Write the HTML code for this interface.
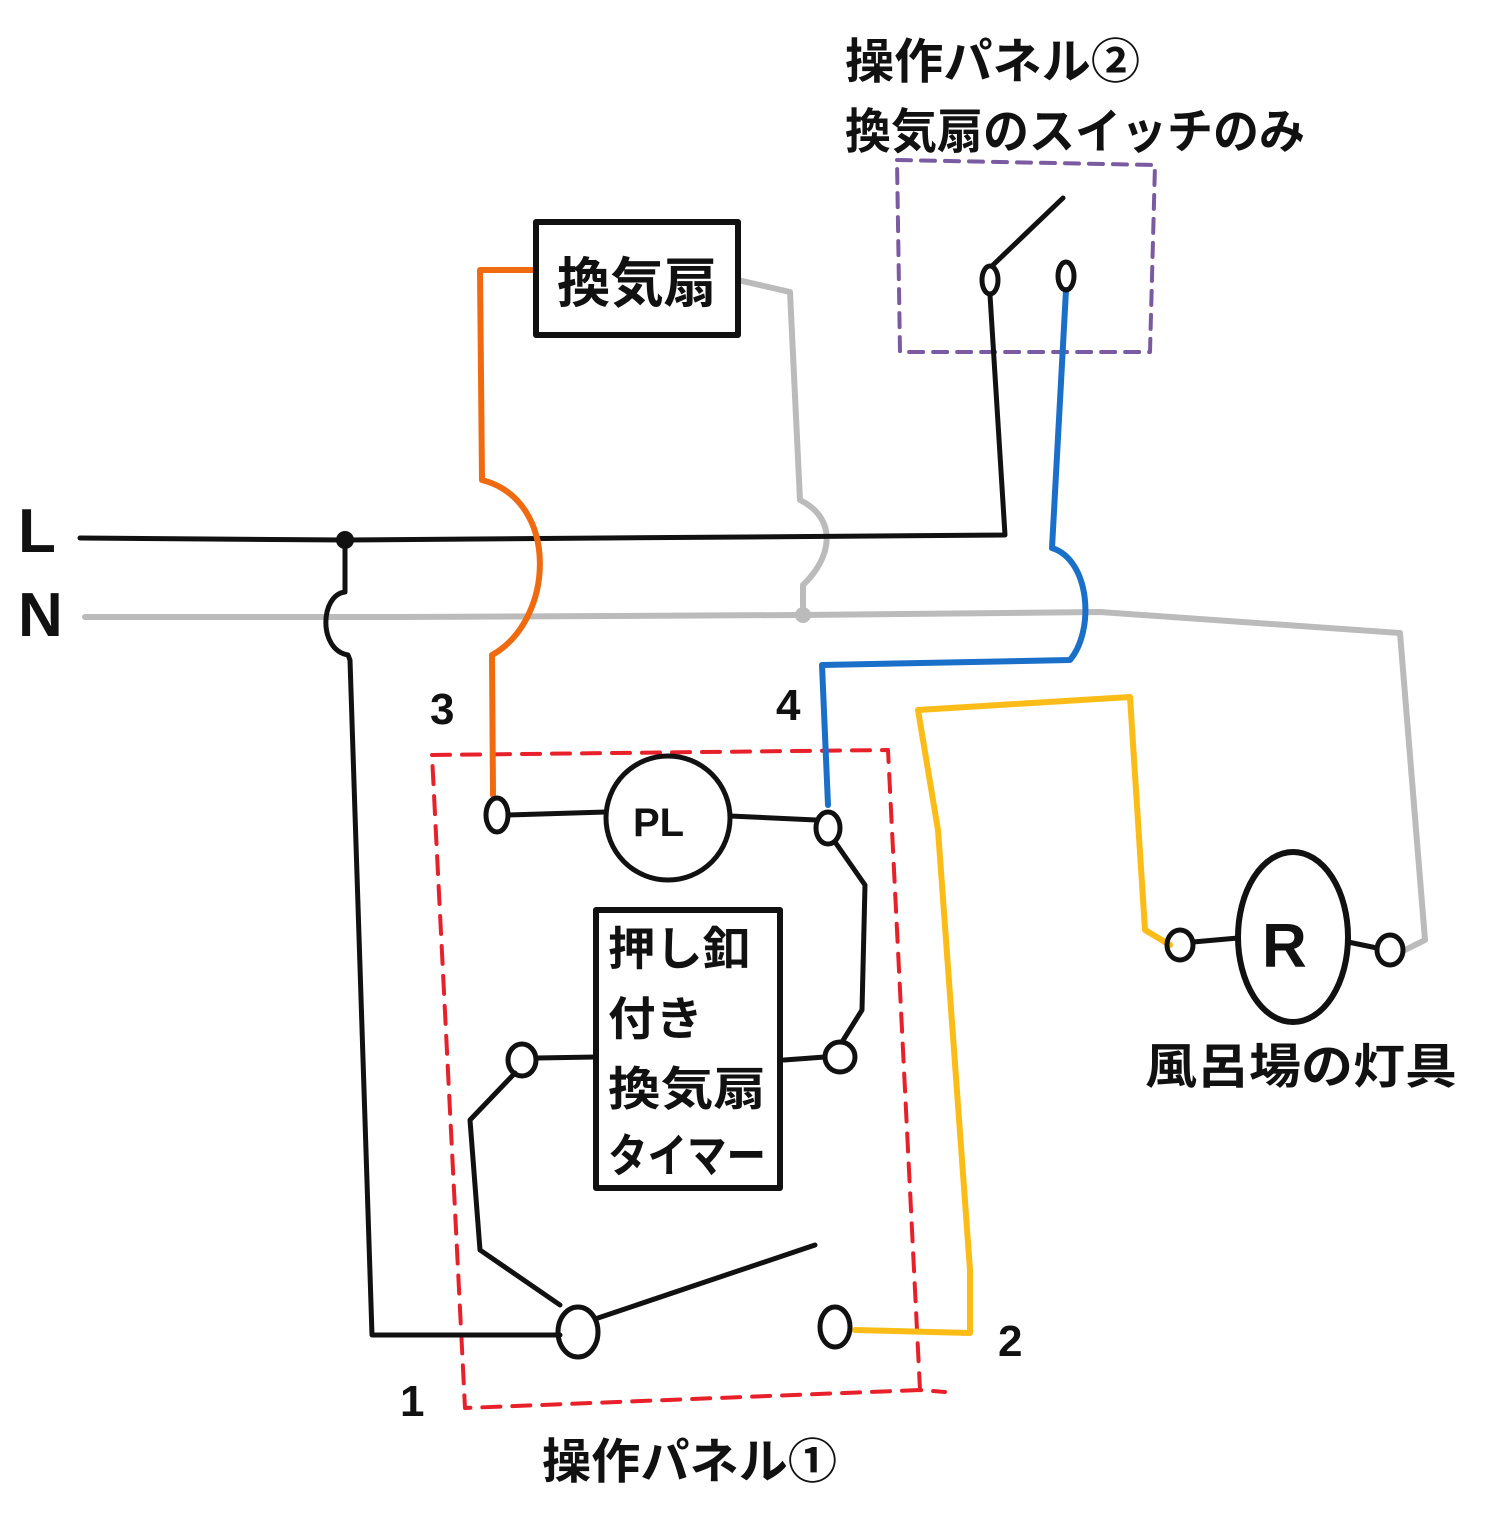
<!DOCTYPE html>
<html><head><meta charset="utf-8"><style>
html,body{margin:0;padding:0;background:#fff;}
svg{display:block;}
text{font-family:"Liberation Sans","Noto Sans CJK JP",sans-serif;font-weight:bold;fill:#111;}
</style></head><body>
<svg width="1508" height="1536" viewBox="0 0 1508 1536" xmlns="http://www.w3.org/2000/svg">
<g fill="none" stroke-linecap="round" stroke-linejoin="round">
<path d="M897,160 L1155,165 L1150,352 L900,352 Z" stroke="#7a5aa0" stroke-width="4" stroke-dasharray="14,10"/>
<path d="M432,755 L888,750 L920,1390 L945,1392 M920,1390 L465,1408 L432,755" stroke="#e8202a" stroke-width="4" stroke-dasharray="18,12"/>
<path d="M85,617 L400,617 L800,615 L1100,612 L1400,633 L1425,940 L1405,950" stroke="#bbb" stroke-width="6"/>
<path d="M738,280 L790,292 L800,500 C840,520 830,560 803,585 L803,615" stroke="#bbb" stroke-width="6"/>
<circle cx="803" cy="615" r="8" fill="#bbb"/>
<path d="M80,538 L345,540 L1005,535 L990,295" stroke="#111" stroke-width="5"/>
<circle cx="345" cy="540" r="9" fill="#111"/>
<path d="M345,540 L345,592 C320,595 318,650 348,655 L350,660 L372,1335 L560,1335" stroke="#111" stroke-width="5"/>
<path d="M536,270 L480,270 L482,480 C560,500 555,620 492,655 L493,795" stroke="#f06a10" stroke-width="6"/>
<path d="M1066,290 L1052,548 C1090,560 1095,630 1070,660 L822,665 L828,805" stroke="#1a6fc8" stroke-width="6"/>
<path d="M855,1330 L970,1333 L970,1270 L938,830 L918,710 L1130,697 L1145,930 L1170,945" stroke="#fbbc18" stroke-width="6"/>
<ellipse cx="990" cy="280" rx="8" ry="14" stroke="#111" stroke-width="5"/>
<ellipse cx="1066" cy="276" rx="8" ry="14" stroke="#111" stroke-width="5"/>
<path d="M993,265 L1063,198" stroke="#111" stroke-width="5"/>
<rect x="536" y="222" width="202" height="113" stroke="#111" stroke-width="6"/>
<circle cx="668" cy="818" r="62" stroke="#111" stroke-width="5"/>
<ellipse cx="497" cy="815" rx="11" ry="17" stroke="#111" stroke-width="5"/>
<ellipse cx="828" cy="828" rx="12" ry="16" stroke="#111" stroke-width="5"/>
<path d="M508,815 L606,812 M730,816 L816,820" stroke="#111" stroke-width="5"/>
<path d="M835,842 L865,885 L862,1010 L842,1042" stroke="#111" stroke-width="5"/>
<circle cx="840" cy="1057" r="15" stroke="#111" stroke-width="5"/>
<rect x="596" y="910" width="184" height="278" stroke="#111" stroke-width="6"/>
<path d="M784,1060 L825,1057 M537,1058 L596,1057" stroke="#111" stroke-width="5"/>
<ellipse cx="522" cy="1060" rx="14" ry="16" stroke="#111" stroke-width="5"/>
<path d="M515,1073 L470,1120 L480,1250 L560,1305" stroke="#111" stroke-width="5"/>
<ellipse cx="578" cy="1332" rx="20" ry="25" stroke="#111" stroke-width="5"/>
<path d="M598,1318 L815,1245" stroke="#111" stroke-width="5"/>
<ellipse cx="835" cy="1327" rx="15" ry="20" stroke="#111" stroke-width="5"/>
<ellipse cx="1293" cy="937" rx="55" ry="85" stroke="#111" stroke-width="6"/>
<ellipse cx="1180" cy="945" rx="13" ry="15" stroke="#111" stroke-width="5"/>
<ellipse cx="1390" cy="950" rx="13" ry="15" stroke="#111" stroke-width="5"/>
<path d="M1193,942 L1238,938 M1348,942 L1377,948" stroke="#111" stroke-width="5"/>
</g>
<text x="845" y="78" font-size="48" textLength="295" lengthAdjust="spacingAndGlyphs">操作パネル②</text>
<text x="845" y="148" font-size="48" textLength="460" lengthAdjust="spacingAndGlyphs">換気扇のスイッチのみ</text>
<text x="557" y="302" font-size="54" textLength="160" lengthAdjust="spacingAndGlyphs">換気扇</text>
<text x="633" y="836" font-size="40" font-weight="normal">PL</text>
<text x="608" y="965" font-size="46" textLength="142" lengthAdjust="spacingAndGlyphs">押し釦</text>
<text x="608" y="1035" font-size="46" textLength="95" lengthAdjust="spacingAndGlyphs">付き</text>
<text x="608" y="1105" font-size="46" textLength="158" lengthAdjust="spacingAndGlyphs">換気扇</text>
<text x="608" y="1172" font-size="46" textLength="158" lengthAdjust="spacingAndGlyphs">タイマー</text>
<text x="1262" y="967" font-size="62" font-weight="normal">R</text>
<text x="1145" y="1083" font-size="48" textLength="312" lengthAdjust="spacingAndGlyphs">風呂場の灯具</text>
<text x="542" y="1478" font-size="48" textLength="295" lengthAdjust="spacingAndGlyphs">操作パネル①</text>
<text x="18" y="552" font-size="62" font-weight="normal">L</text>
<text x="18" y="636" font-size="62" font-weight="normal">N</text>
<text x="430" y="724" font-size="44" font-weight="normal">3</text>
<text x="776" y="720" font-size="44" font-weight="normal">4</text>
<text x="400" y="1416" font-size="44" font-weight="normal">1</text>
<text x="998" y="1356" font-size="44" font-weight="normal">2</text>
</svg>
</body></html>
